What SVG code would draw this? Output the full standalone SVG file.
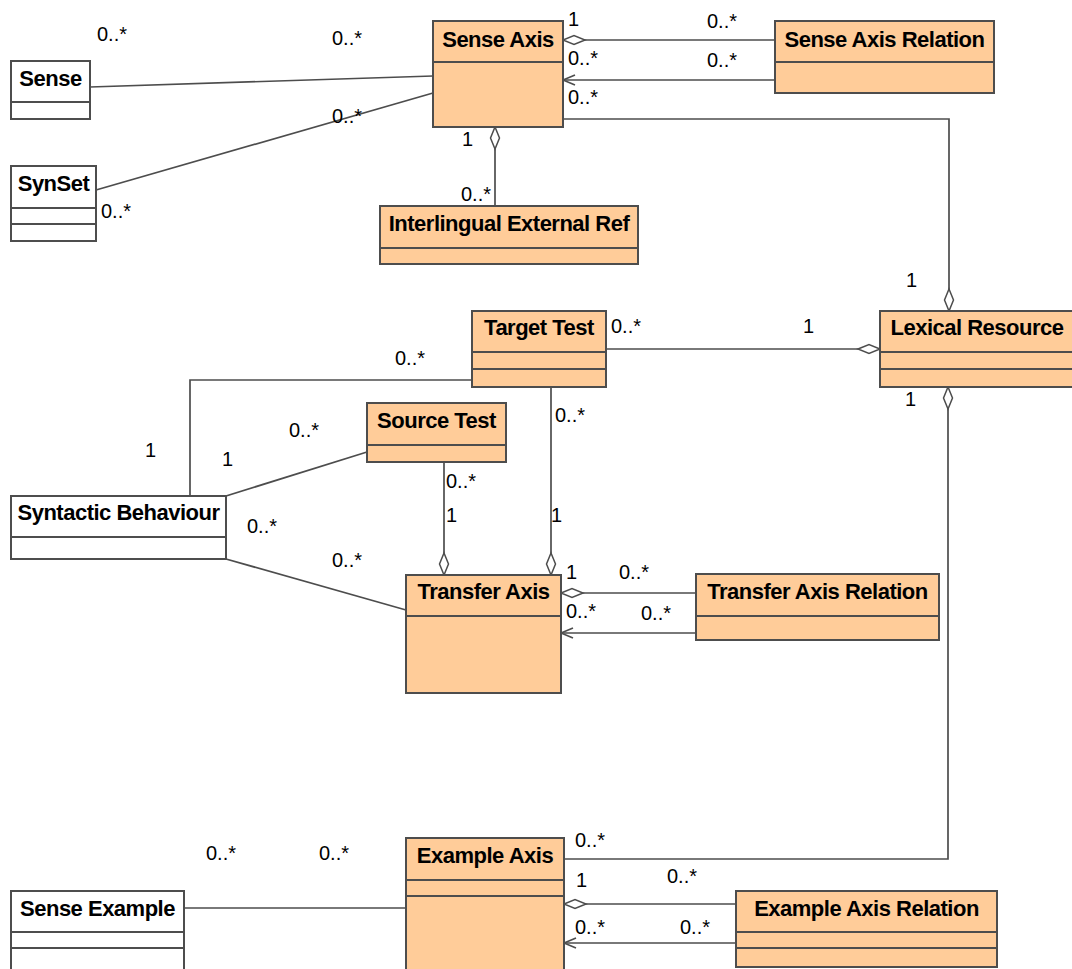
<svg xmlns="http://www.w3.org/2000/svg" width="1072" height="969" viewBox="0 0 1072 969">
  <style>
    .box { stroke: #4d4d4d; stroke-width: 2; }
    .cls { fill: #ffcc99; }
    .plain { fill: #ffffff; }
    .div { stroke: #4d4d4d; stroke-width: 2; fill: none; }
    .title { font-family: "Liberation Sans", Arial, sans-serif; font-weight: bold; font-size: 22px; letter-spacing: -0.5px; fill: #000; text-anchor: middle; }
    .mult { font-family: "Liberation Sans", Arial, sans-serif; font-size: 20px; fill: #000; }
    .conn { stroke: #4d4d4d; stroke-width: 1.7; fill: none; }
  </style>
  <defs>
    <marker id="agg" markerUnits="userSpaceOnUse" markerWidth="26" markerHeight="14" viewBox="-2 -7 26 14" refX="22" refY="0" orient="auto">
      <path d="M0,0 L11,-4.5 L22,0 L11,4.5 Z" fill="#ffffff" stroke="#4d4d4d" stroke-width="1.5"/>
    </marker>
    <marker id="nav" markerUnits="userSpaceOnUse" markerWidth="16" markerHeight="14" viewBox="-2 -7 16 14" refX="12" refY="0" orient="auto">
      <path d="M0,-5 L12,0 L0,5" fill="none" stroke="#4d4d4d" stroke-width="1.7"/>
    </marker>
  </defs>

  <rect width="1072" height="969" fill="#ffffff"/>

  <!-- associations -->
  <g id="connectors">
    <path class="conn" d="M90,87 L433,76"/>
    <path class="conn" d="M96,190 L433,93"/>
    <path class="conn" d="M775,40 L563,40" marker-end="url(#agg)"/>
    <path class="conn" d="M775,80 L563,80" marker-end="url(#nav)"/>
    <path class="conn" d="M563,119 L949,119 L949,311" marker-end="url(#agg)"/>
    <path class="conn" d="M495,206 L495,127" marker-end="url(#agg)"/>
    <path class="conn" d="M606,349 L880,349" marker-end="url(#agg)"/>
    <path class="conn" d="M564,859 L948,859 L948,387" marker-end="url(#agg)"/>
    <path class="conn" d="M190,496 L190,380 L472,380"/>
    <path class="conn" d="M226,496 L367,452"/>
    <path class="conn" d="M226,559 L406,610"/>
    <path class="conn" d="M444,462 L444,575" marker-end="url(#agg)"/>
    <path class="conn" d="M551,387 L551,575" marker-end="url(#agg)"/>
    <path class="conn" d="M696,593 L561,593" marker-end="url(#agg)"/>
    <path class="conn" d="M696,633 L561,633" marker-end="url(#nav)"/>
    <path class="conn" d="M184,908 L406,908"/>
    <path class="conn" d="M736,904 L564,904" marker-end="url(#agg)"/>
    <path class="conn" d="M736,943 L564,943" marker-end="url(#nav)"/>
  </g>

  <!-- classes -->
  <g id="sense">
    <rect class="box plain" x="11" y="61" width="79" height="58"/>
    <path class="div" d="M11,102 H90"/>
    <text class="title" x="50.5" y="86">Sense</text>
  </g>
  <g id="synset">
    <rect class="box plain" x="11" y="166" width="85" height="75"/>
    <path class="div" d="M11,208 H96 M11,224 H96"/>
    <text class="title" x="53.5" y="191">SynSet</text>
  </g>
  <g id="sense-axis">
    <rect class="box cls" x="433" y="21" width="130" height="106"/>
    <path class="div" d="M433,62 H563"/>
    <text class="title" x="498" y="47">Sense Axis</text>
  </g>
  <g id="sense-axis-relation">
    <rect class="box cls" x="775" y="21" width="219" height="72"/>
    <path class="div" d="M775,62 H994"/>
    <text class="title" x="884.5" y="47">Sense Axis Relation</text>
  </g>
  <g id="interlingual-external-ref">
    <rect class="box cls" x="380" y="206" width="258" height="58"/>
    <path class="div" d="M380,248 H638"/>
    <text class="title" x="509" y="231">Interlingual External Ref</text>
  </g>
  <g id="lexical-resource">
    <rect class="box cls" x="880" y="311" width="205" height="76"/>
    <path class="div" d="M880,352 H1085 M880,369 H1085"/>
    <text class="title" x="977" y="335">Lexical Resource</text>
  </g>
  <g id="target-test">
    <rect class="box cls" x="472" y="311" width="134" height="76"/>
    <path class="div" d="M472,352 H606 M472,369 H606"/>
    <text class="title" x="539" y="335">Target Test</text>
  </g>
  <g id="source-test">
    <rect class="box cls" x="367" y="403" width="139" height="59"/>
    <path class="div" d="M367,445 H506"/>
    <text class="title" x="436.5" y="428">Source Test</text>
  </g>
  <g id="syntactic-behaviour">
    <rect class="box plain" x="11" y="496" width="215" height="63"/>
    <path class="div" d="M11,537 H226"/>
    <text class="title" x="118.5" y="520">Syntactic Behaviour</text>
  </g>
  <g id="transfer-axis">
    <rect class="box cls" x="406" y="575" width="155" height="118"/>
    <path class="div" d="M406,616 H561"/>
    <text class="title" x="483.5" y="599">Transfer Axis</text>
  </g>
  <g id="transfer-axis-relation">
    <rect class="box cls" x="696" y="574" width="243" height="66"/>
    <path class="div" d="M696,616 H939"/>
    <text class="title" x="817.5" y="599">Transfer Axis Relation</text>
  </g>
  <g id="sense-example">
    <rect class="box plain" x="11" y="891" width="173" height="100"/>
    <path class="div" d="M11,932 H184 M11,948 H184"/>
    <text class="title" x="97.5" y="916">Sense Example</text>
  </g>
  <g id="example-axis">
    <rect class="box cls" x="406" y="838" width="158" height="160"/>
    <path class="div" d="M406,880 H564 M406,896 H564"/>
    <text class="title" x="485" y="863">Example Axis</text>
  </g>
  <g id="example-axis-relation">
    <rect class="box cls" x="736" y="891" width="261" height="76"/>
    <path class="div" d="M736,932 H997 M736,948 H997"/>
    <text class="title" x="866.5" y="916">Example Axis Relation</text>
  </g>

  <!-- multiplicities -->
  <g id="multiplicities" class="mult">
    <text class="mult" x="97" y="41">0..*</text>
    <text class="mult" x="332" y="45">0..*</text>
    <text class="mult" x="332" y="123">0..*</text>
    <text class="mult" x="101" y="218">0..*</text>
    <text class="mult" x="568" y="26">1</text>
    <text class="mult" x="568" y="65">0..*</text>
    <text class="mult" x="568" y="104">0..*</text>
    <text class="mult" x="707" y="28">0..*</text>
    <text class="mult" x="707" y="67">0..*</text>
    <text class="mult" x="462" y="146">1</text>
    <text class="mult" x="461" y="201">0..*</text>
    <text class="mult" x="906" y="287">1</text>
    <text class="mult" x="803" y="333">1</text>
    <text class="mult" x="611" y="333">0..*</text>
    <text class="mult" x="905" y="406">1</text>
    <text class="mult" x="395" y="365">0..*</text>
    <text class="mult" x="289" y="437">0..*</text>
    <text class="mult" x="145" y="457">1</text>
    <text class="mult" x="222" y="466">1</text>
    <text class="mult" x="247" y="533">0..*</text>
    <text class="mult" x="332" y="567">0..*</text>
    <text class="mult" x="446" y="488">0..*</text>
    <text class="mult" x="446" y="522">1</text>
    <text class="mult" x="555" y="422">0..*</text>
    <text class="mult" x="551" y="522">1</text>
    <text class="mult" x="566" y="579">1</text>
    <text class="mult" x="619" y="579">0..*</text>
    <text class="mult" x="566" y="618">0..*</text>
    <text class="mult" x="641" y="620">0..*</text>
    <text class="mult" x="206" y="860">0..*</text>
    <text class="mult" x="319" y="860">0..*</text>
    <text class="mult" x="575" y="847">0..*</text>
    <text class="mult" x="576" y="887">1</text>
    <text class="mult" x="667" y="883">0..*</text>
    <text class="mult" x="575" y="934">0..*</text>
    <text class="mult" x="680" y="934">0..*</text>
  </g>
</svg>
